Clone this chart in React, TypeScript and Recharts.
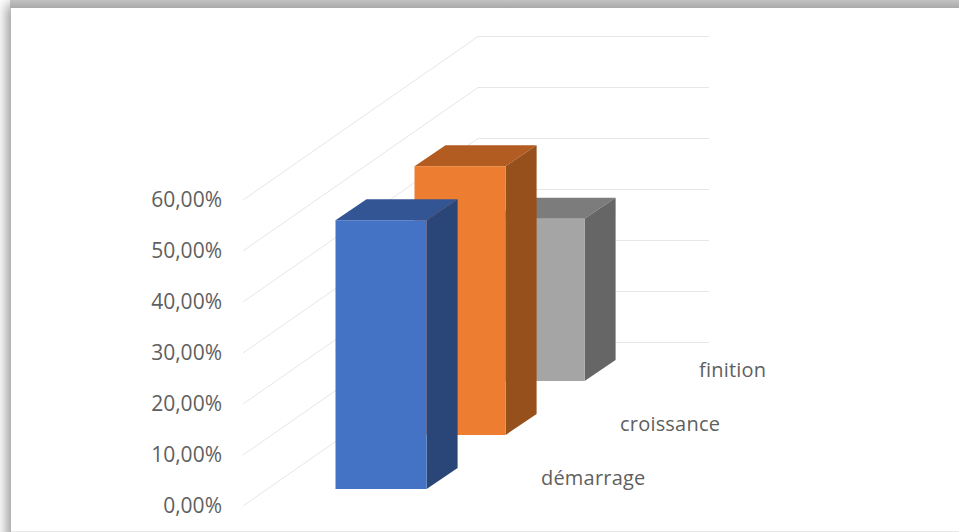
import { Bar, BarChart, CartesianGrid, XAxis, YAxis } from "recharts"

const categories = ["démarrage", "croissance", "finition"]
const values = [52.7, 52.7, 31.8]
const yTicks = [0, 10, 20, 30, 40, 50, 60]

const frontColors = ["#4472c4", "#ed7d31", "#a5a5a5"]
const topColors = ["#335593", "#b35c22", "#7c7c7c"]
const sideColors = ["#2a4679", "#96501c", "#666666"]

// finition is painted first so the nearer columns overlap it
const chartData = categories.map((name, i) => ({ name, value: values[i] })).reverse()

const TEXT = "#5f5f5f"
const FONT = "'Open Sans', sans-serif"
const WALL = "#e6e6e6"

// oblique projection: one step back along the floor per category
const STEP_Y = -54
const FIRST_Y = -17
const DEPTH_X = 31
const DEPTH_Y = -21
// columns overlap each other, so they are wider than their band
const OVERHANG = 20

function Column(props: any) {
    const { x, y, width, height, payload } = props
    const i = categories.indexOf(payload.name)
    const oy = FIRST_Y + STEP_Y * i
    const l = x - OVERHANG / 2
    const r = x + width + OVERHANG / 2
    const t = y + oy
    const b = y + height + oy
    return (
        <g>
            <polygon
                points={`${l},${t} ${r},${t} ${r + DEPTH_X},${t + DEPTH_Y} ${l + DEPTH_X},${t + DEPTH_Y}`}
                fill={topColors[i]}
            />
            <polygon
                points={`${r},${t} ${r + DEPTH_X},${t + DEPTH_Y} ${r + DEPTH_X},${b + DEPTH_Y} ${r},${b}`}
                fill={sideColors[i]}
            />
            <rect x={l} y={t} width={r - l} height={b - t} fill={frontColors[i]} />
        </g>
    )
}

// gridline running up the side wall and across the back wall
function WallLine(props: any) {
    const { x1, y1, x2 } = props
    const backX = x1 + 235
    const backY = y1 - 163.5
    return (
        <polyline
            points={`${x1},${y1} ${backX},${backY} ${x2},${backY}`}
            fill="none"
            stroke={WALL}
            strokeWidth={1}
        />
    )
}

function ValueTick(props: any) {
    const { x, y, payload } = props
    return (
        <text x={x - 21} y={y + 7} textAnchor="end" fontFamily={FONT} fontSize={21} fill={TEXT}>
            {payload.value.toFixed(2).replace(".", ",") + "%"}
        </text>
    )
}

function FloorTick(props: any) {
    const { x, y, payload } = props
    const i = categories.indexOf(payload.value)
    return (
        <text
            x={x + 160}
            y={y - 21 + STEP_Y * i}
            textAnchor="start"
            fontFamily={FONT}
            fontSize={20}
            letterSpacing={0.2}
            fill={TEXT}
        >
            {payload.value}
        </text>
    )
}

export default function App() {
    return (
        <div style={{ position: "absolute", left: 0, top: 0, width: 959, height: 532, overflow: "hidden", background: "#fff" }}>
            <div
                style={{
                    position: "absolute",
                    left: 11,
                    top: 8,
                    width: 980,
                    height: 560,
                    boxShadow: "0 0 12px 4px rgba(0,0,0,0.42)",
                }}
            />
            <div
                style={{
                    position: "absolute",
                    left: 10,
                    top: 0,
                    width: 949,
                    height: 8,
                    background: "linear-gradient(#c2c2c2, #a9a9a9)",
                }}
            />
            <div style={{ position: "absolute", left: 11, top: 8, width: 948, height: 523, background: "#fff" }} />
            <div style={{ position: "absolute", left: 11, top: 531, width: 948, height: 1, background: "#e8e8e8" }} />
            <div style={{ position: "absolute", left: 0, top: 0 }}>
                <BarChart
                    width={959}
                    height={532}
                    data={chartData}
                    barSize={92}
                    barCategoryGap={0}
                    margin={{ top: 200, right: 250, bottom: 25, left: 0 }}
                >
                    <CartesianGrid vertical={false} horizontal={<WallLine />} horizontalValues={yTicks} />
                    <YAxis
                        width={243}
                        domain={[0, 60]}
                        ticks={yTicks}
                        axisLine={false}
                        tickLine={false}
                        tickSize={0}
                        tickMargin={0}
                        interval={0}
                        tick={<ValueTick />}
                    />
                    <XAxis
                        dataKey="name"
                        reversed
                        height={1}
                        axisLine={false}
                        tickLine={false}
                        tickSize={0}
                        tickMargin={0}
                        interval={0}
                        padding={{ left: 98.5, right: 130.5 }}
                        tick={<FloorTick />}
                    />
                    <Bar dataKey="value" shape={<Column />} isAnimationActive={false} />
                </BarChart>
            </div>
        </div>
    )
}
